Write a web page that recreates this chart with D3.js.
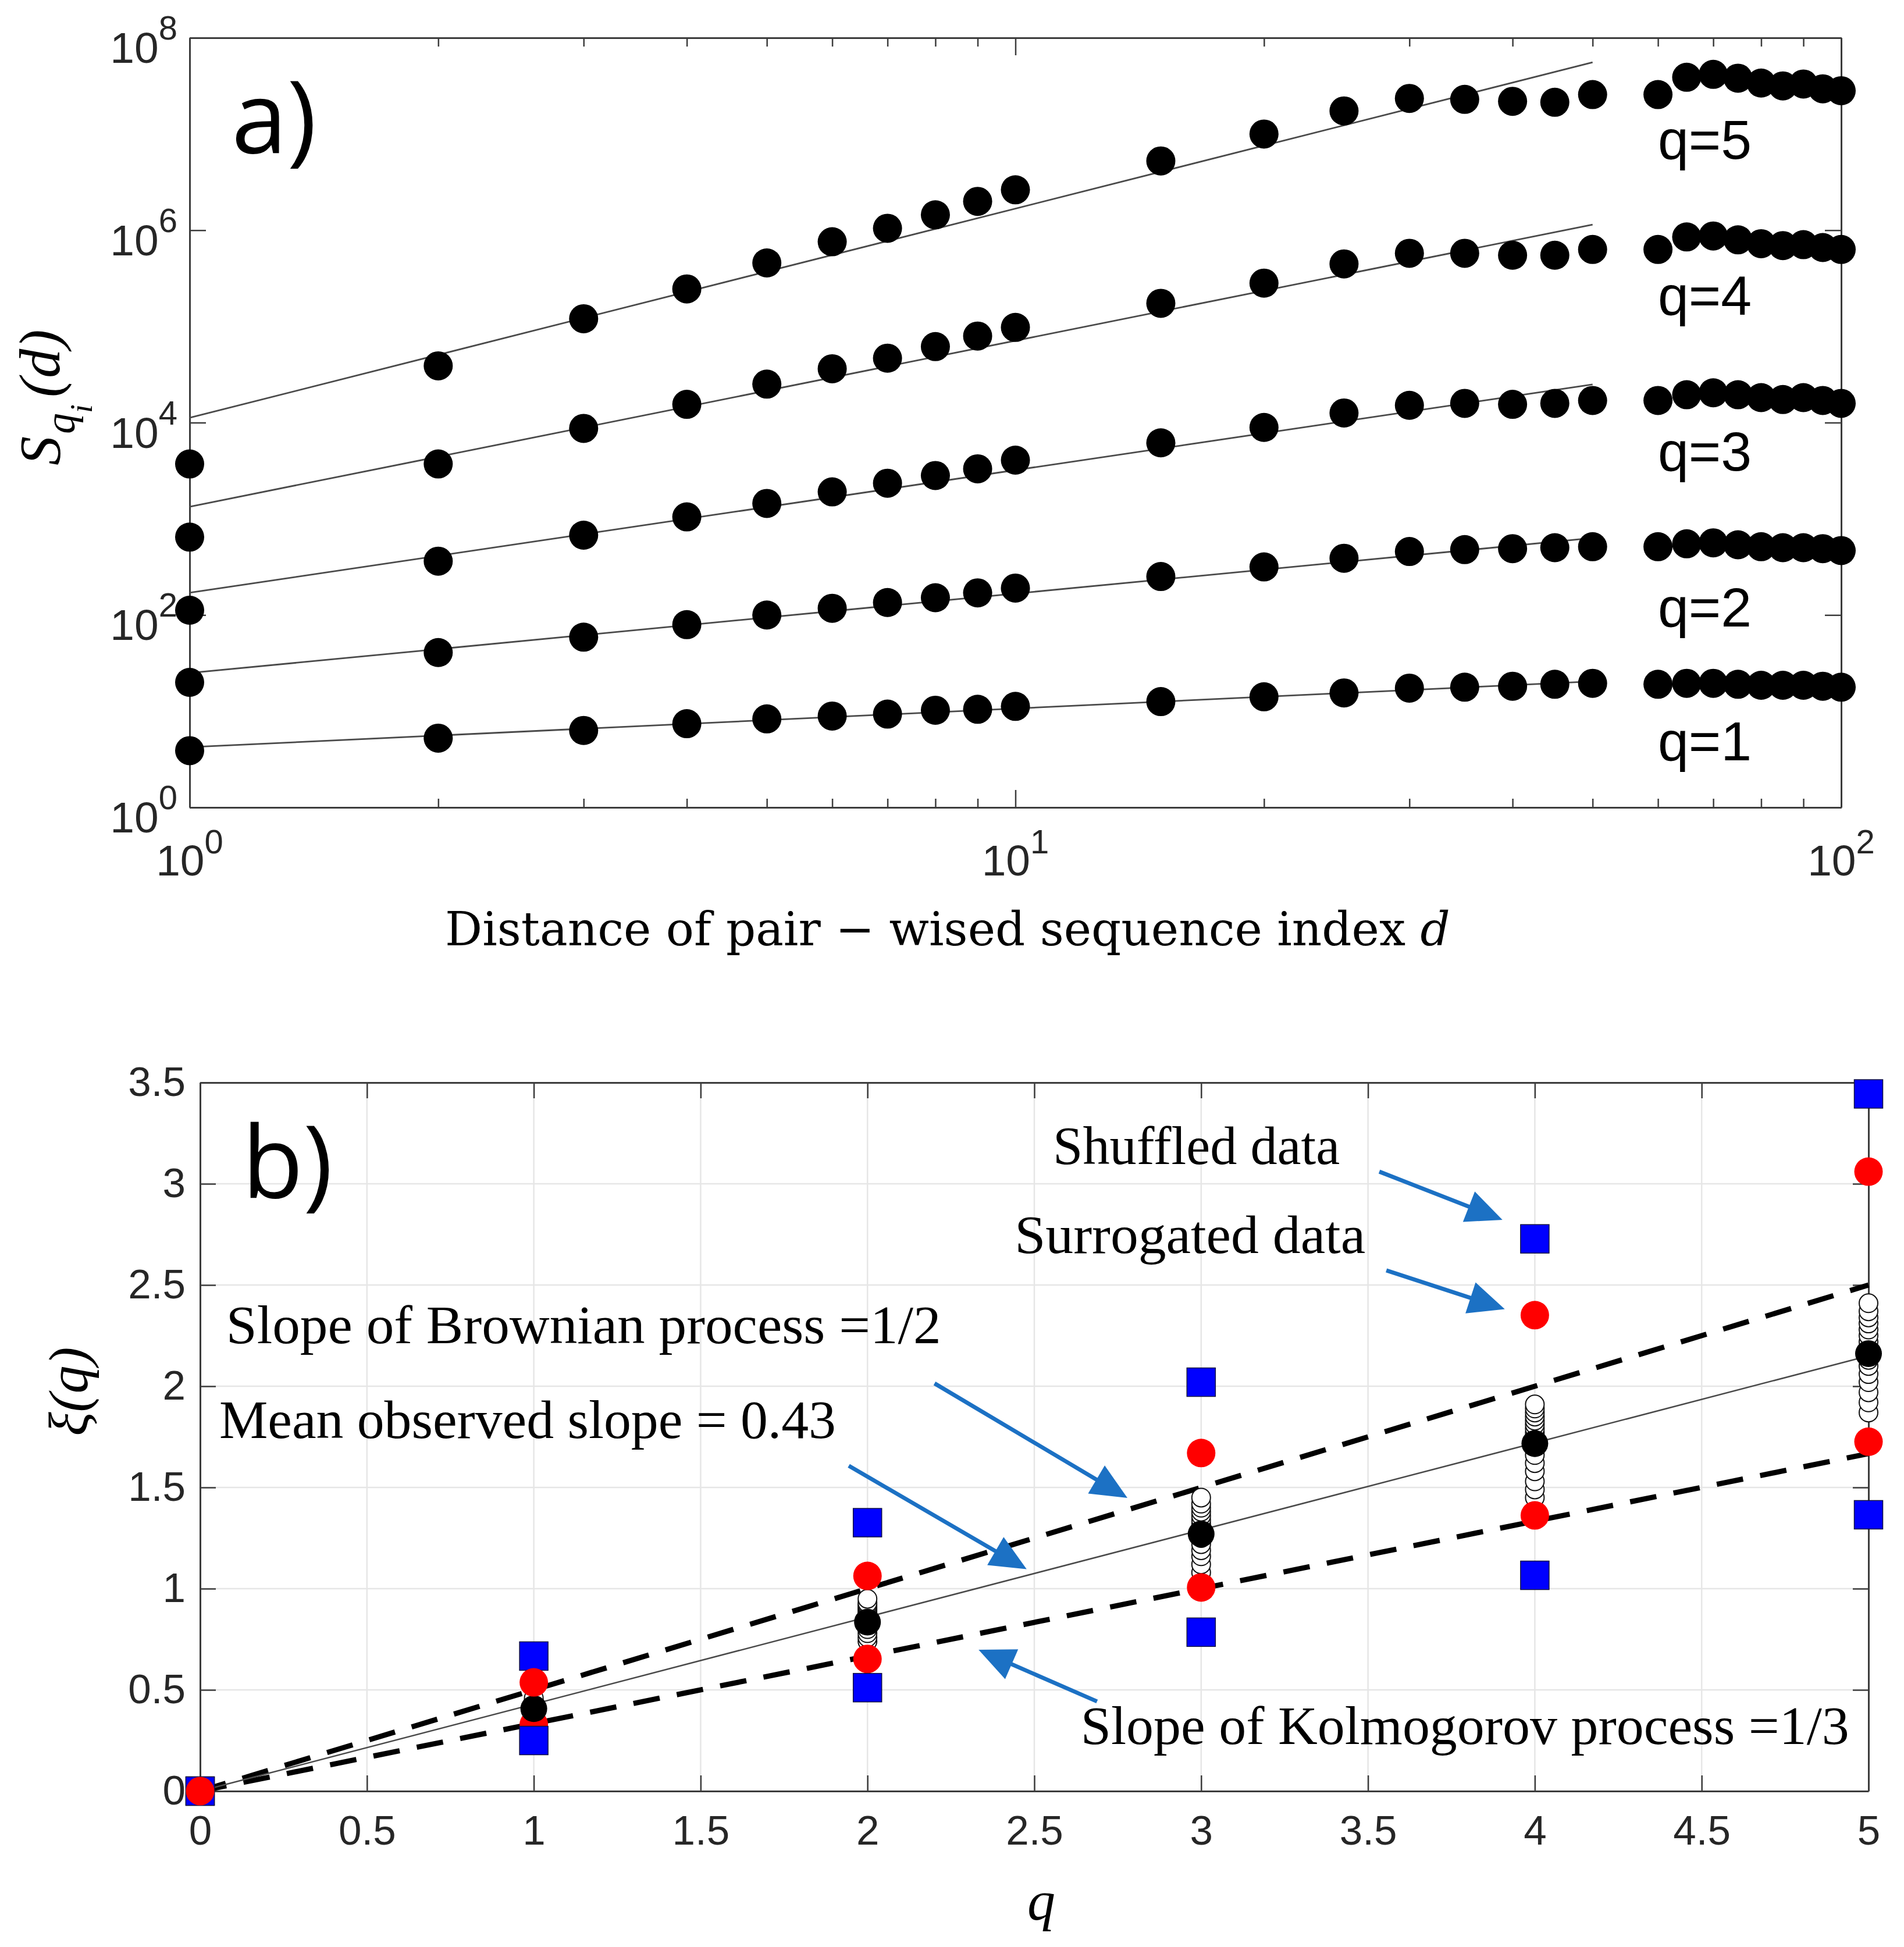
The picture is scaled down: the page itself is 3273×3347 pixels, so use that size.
<!DOCTYPE html>
<html>
<head>
<meta charset="utf-8">
<script src="https://cdn.jsdelivr.net/npm/d3@7"></script>
<style>
body { margin: 0; background: #fff; }
</style>
</head>
<body>
<svg id="chart" width="3273" height="3347"></svg>
<script>
// ---- panel a: structure function S_q(d), values stored as log10 ----
var distances = [1, 2, 3, 4, 5, 6, 7, 8, 9, 10, 15, 20, 25, 30, 35, 40, 45, 50, 60, 65, 70, 75, 80, 85, 90, 95, 100];
var q1Log = [0.59, 0.72, 0.80, 0.87, 0.92, 0.95, 0.97, 1.01, 1.02, 1.05, 1.10, 1.15, 1.19, 1.24, 1.25, 1.26, 1.28, 1.29, 1.28, 1.29, 1.29, 1.28, 1.27, 1.27, 1.27, 1.26, 1.25];
var q2Log = [1.30, 1.61, 1.77, 1.90, 2.00, 2.07, 2.13, 2.18, 2.23, 2.28, 2.40, 2.50, 2.59, 2.66, 2.68, 2.69, 2.70, 2.71, 2.71, 2.74, 2.75, 2.73, 2.71, 2.70, 2.70, 2.69, 2.67];
var q3Log = [2.05, 2.56, 2.83, 3.02, 3.16, 3.28, 3.37, 3.45, 3.52, 3.61, 3.79, 3.95, 4.10, 4.18, 4.20, 4.19, 4.20, 4.23, 4.23, 4.29, 4.31, 4.29, 4.26, 4.24, 4.26, 4.23, 4.20];
var q4Log = [2.81, 3.57, 3.94, 4.19, 4.40, 4.56, 4.67, 4.79, 4.90, 4.99, 5.24, 5.45, 5.65, 5.76, 5.76, 5.74, 5.74, 5.80, 5.80, 5.93, 5.94, 5.90, 5.86, 5.84, 5.85, 5.82, 5.80];
var q5Log = [3.57, 4.59, 5.08, 5.39, 5.66, 5.88, 6.02, 6.16, 6.30, 6.42, 6.72, 7.00, 7.24, 7.37, 7.36, 7.34, 7.33, 7.41, 7.41, 7.59, 7.62, 7.58, 7.53, 7.50, 7.52, 7.47, 7.45];
var qLabels = ["q=1", "q=2", "q=3", "q=4", "q=5"];
// fitted lines, log10 S at d=1 and at d=50
var fitRange = [1, 50];
var fitStartLog = [0.626, 1.397, 2.232, 3.126, 4.05];
var fitEndLog = [1.31, 2.80, 4.397, 6.058, 7.745];
var xTicksA = [1, 10, 100];
var xMinorA = [2, 3, 4, 5, 6, 7, 8, 9, 20, 30, 40, 50, 60, 70, 80, 90];
var yTicksA = [1, 1e2, 1e4, 1e6, 1e8];

// ---- panel b: scaling exponents xi(q) ----
var qValues = [0, 1, 2, 3, 4, 5];
var shuffledHigh = [0, 0.667, 1.326, 2.02, 2.728, 3.444];
var shuffledLow = [0, 0.25, 0.511, 0.785, 1.066, 1.365];
var surrogatedHigh = [0, 0.537, 1.063, 1.67, 2.351, 3.06];
var surrogatedLow = [0, 0.329, 0.653, 1.006, 1.362, 1.726];
var meanObserved = [0, 0.407, 0.835, 1.27, 1.717, 2.161];
var observedPerQ = [
    [0],
    [0.36, 0.38, 0.39, 0.40, 0.41, 0.42, 0.43, 0.44, 0.45, 0.46],
    [0.74, 0.76, 0.78, 0.80, 0.82, 0.84, 0.85, 0.86, 0.87, 0.88, 0.89, 0.90, 0.91, 0.92, 0.93, 0.95],
    [1.08, 1.12, 1.16, 1.19, 1.22, 1.25, 1.28, 1.30, 1.32, 1.34, 1.36, 1.38, 1.40, 1.42, 1.45],
    [1.45, 1.49, 1.53, 1.58, 1.62, 1.66, 1.70, 1.73, 1.75, 1.77, 1.79, 1.81, 1.83, 1.85, 1.87, 1.89, 1.91],
    [1.87, 1.92, 1.97, 2.02, 2.06, 2.10, 2.13, 2.16, 2.19, 2.22, 2.25, 2.28, 2.31, 2.34, 2.37, 2.41]
];
var brownianLine = [[0, 0], [5, 2.5]];
var kolmogorovLine = [[0, 0], [5, 1.667]];
var meanLine = [[0, 0], [5, 2.15]];
var xTicksB = [0, 0.5, 1, 1.5, 2, 2.5, 3, 3.5, 4, 4.5, 5];
var yTicksB = [0, 0.5, 1, 1.5, 2, 2.5, 3, 3.5];

var axisColor = "#3c3c3c";
var labelColor = "#262626";
var sans = "'Liberation Sans', Arial, sans-serif";
var serif = "'Liberation Serif', 'Times New Roman', serif";

var svg = d3.select("#chart");
svg.append("rect").attr("width", 3273).attr("height", 3347).attr("fill", "#fff");

function styleAxis(g) {
    g.select(".domain").attr("stroke", axisColor).attr("stroke-width", 3);
    g.selectAll(".tick line").attr("stroke", axisColor).attr("stroke-width", 2.5);
    g.selectAll(".tick text").attr("fill", labelColor).style("font-family", sans).style("font-size", "71px");
}

// ================= panel a =================
var xA = d3.scaleLog().domain([1, 100]).range([326, 3165]);
var yA = d3.scaleLog().domain([1, 1e8]).range([1388, 65]);

var gA = svg.append("g");

gA.append("g").attr("transform", "translate(0,1388)")
    .call(d3.axisBottom(xA).tickValues(xMinorA).tickSize(-15).tickSizeOuter(0).tickFormat(""))
    .call(styleAxis);
gA.append("g").attr("transform", "translate(0,1388)")
    .call(d3.axisBottom(xA).tickValues(xTicksA).tickSize(-30).tickSizeOuter(0).tickFormat(""))
    .call(styleAxis);
gA.append("g").attr("transform", "translate(0,65)")
    .call(d3.axisTop(xA).tickValues(xMinorA).tickSize(-15).tickSizeOuter(0).tickFormat(""))
    .call(styleAxis);
gA.append("g").attr("transform", "translate(0,65)")
    .call(d3.axisTop(xA).tickValues(xTicksA).tickSize(-30).tickSizeOuter(0).tickFormat(""))
    .call(styleAxis);
gA.append("g").attr("transform", "translate(326,0)")
    .call(d3.axisLeft(yA).tickValues(yTicksA).tickSize(-28).tickSizeOuter(0).tickFormat(""))
    .call(styleAxis);
gA.append("g").attr("transform", "translate(3165,0)")
    .call(d3.axisRight(yA).tickValues(yTicksA).tickSize(-28).tickSizeOuter(0).tickFormat(""))
    .call(styleAxis);

// power-of-ten tick labels
yTicksA.forEach(function (v) {
    var t = gA.append("text")
        .attr("x", 305).attr("y", yA(v) + 43)
        .attr("text-anchor", "end")
        .attr("fill", labelColor)
        .style("font-family", sans).style("font-size", "75px")
        .text("10");
    t.append("tspan").attr("dy", -40).style("font-size", "58px").text(Math.round(Math.log10(v)));
});
xTicksA.forEach(function (v) {
    var t = gA.append("text")
        .attr("x", xA(v)).attr("y", 1505)
        .attr("text-anchor", "middle")
        .attr("fill", labelColor)
        .style("font-family", sans).style("font-size", "75px")
        .text("10");
    t.append("tspan").attr("dy", -38).style("font-size", "58px").text(Math.round(Math.log10(v)));
});

var seriesA = [q1Log, q2Log, q3Log, q4Log, q5Log];
var fitLine = d3.line().x(function (d) { return xA(d[0]); }).y(function (d) { return yA(d[1]); });

seriesA.forEach(function (s, i) {
    var pts = [[fitRange[0], Math.pow(10, fitStartLog[i])], [fitRange[1], Math.pow(10, fitEndLog[i])]];
    gA.append("path").attr("d", fitLine(pts))
        .attr("fill", "none").attr("stroke", "#4a4a4a").attr("stroke-width", 2.8);
});

seriesA.forEach(function (s, i) {
    gA.append("g").selectAll("circle")
        .data(s)
        .enter()
        .append("circle")
        .attr("cx", function (d, j) { return xA(distances[j]); })
        .attr("cy", function (d) { return yA(Math.pow(10, d)); })
        .attr("r", 25)
        .attr("fill", "#000");
});

var qLabelBase = [1307, 1077, 809, 541, 273];
qLabels.forEach(function (l, i) {
    gA.append("text")
        .attr("x", 2850).attr("y", qLabelBase[i])
        .attr("fill", "#000")
        .style("font-family", sans).style("font-size", "95px")
        .text(l);
});

gA.append("text").attr("x", 398).attr("y", 263)
    .style("font-family", "'Open Sans', 'Noto Sans', sans-serif").style("font-size", "172px")
    .attr("fill", "#000").text("a)");

gA.append("text").attr("x", 765).attr("y", 1625)
    .style("font-family", "'DejaVu Serif', serif").style("font-size", "80px")
    .attr("fill", "#000")
    .text("Distance of pair \u2212 wised sequence index ")
    .append("tspan").style("font-style", "italic").text("d");

var yLabA = gA.append("text")
    .attr("transform", "translate(102,800) rotate(-90)")
    .style("font-family", serif).style("font-style", "italic").style("font-size", "100px")
    .attr("fill", "#000");
yLabA.append("tspan").text("S");
yLabA.append("tspan").attr("dy", 26).attr("dx", 4).style("font-size", "72px").text("q");
yLabA.append("tspan").attr("dy", 30).style("font-size", "54px").text("i");
yLabA.append("tspan").attr("dy", -56).attr("dx", 12).text("(d)");

// ================= panel b =================
var xB = d3.scaleLinear().domain([0, 5]).range([344, 3212]);
var yB = d3.scaleLinear().domain([0, 3.5]).range([3079, 1861]);

var gB = svg.append("g");

// grid
gB.append("g").selectAll("line").data(xTicksB).enter().append("line")
    .attr("x1", function (d) { return xB(d); }).attr("x2", function (d) { return xB(d); })
    .attr("y1", yB(0)).attr("y2", yB(3.5))
    .attr("stroke", "#e6e6e6").attr("stroke-width", 2.5);
gB.append("g").selectAll("line").data(yTicksB).enter().append("line")
    .attr("y1", function (d) { return yB(d); }).attr("y2", function (d) { return yB(d); })
    .attr("x1", xB(0)).attr("x2", xB(5))
    .attr("stroke", "#e6e6e6").attr("stroke-width", 2.5);

gB.append("g").attr("transform", "translate(0,3079)")
    .call(d3.axisBottom(xB).tickValues(xTicksB).tickSize(-27).tickSizeOuter(0).tickPadding(42).tickFormat(function (d) { return String(d); }))
    .call(styleAxis);
gB.append("g").attr("transform", "translate(0,1861)")
    .call(d3.axisTop(xB).tickValues(xTicksB).tickSize(-27).tickSizeOuter(0).tickFormat(""))
    .call(styleAxis);
gB.append("g").attr("transform", "translate(344,0)")
    .call(d3.axisLeft(yB).tickValues(yTicksB).tickSize(-27).tickSizeOuter(0).tickPadding(25).tickFormat(function (d) { return String(d); }))
    .call(styleAxis);
gB.append("g").attr("transform", "translate(3212,0)")
    .call(d3.axisRight(yB).tickValues(yTicksB).tickSize(-27).tickSizeOuter(0).tickFormat(""))
    .call(styleAxis);

var refLine = d3.line().x(function (d) { return xB(d[0]); }).y(function (d) { return yB(d[1]); });
gB.append("path").attr("d", refLine(brownianLine))
    .attr("fill", "none").attr("stroke", "#000").attr("stroke-width", 9).attr("stroke-dasharray", "46,30");
gB.append("path").attr("d", refLine(kolmogorovLine))
    .attr("fill", "none").attr("stroke", "#000").attr("stroke-width", 9).attr("stroke-dasharray", "46,30");
gB.append("path").attr("d", refLine(meanLine))
    .attr("fill", "none").attr("stroke", "#4a4a4a").attr("stroke-width", 2.5);

// individual observed slopes (open circles)
observedPerQ.forEach(function (vals, i) {
    gB.append("g").selectAll("circle").data(vals).enter().append("circle")
        .attr("cx", xB(qValues[i]))
        .attr("cy", function (d) { return yB(d); })
        .attr("r", 16)
        .attr("fill", "#fff").attr("stroke", "#111").attr("stroke-width", 2);
});

function drawCircles(vals, color, r) {
    gB.append("g").selectAll("circle").data(vals).enter().append("circle")
        .attr("cx", function (d, i) { return xB(qValues[i]); })
        .attr("cy", function (d) { return yB(d); })
        .attr("r", r).attr("fill", color);
}
function drawSquares(vals) {
    var s = 49;
    gB.append("g").selectAll("rect").data(vals).enter().append("rect")
        .attr("x", function (d, i) { return xB(qValues[i]) - s / 2; })
        .attr("y", function (d) { return yB(d) - s / 2; })
        .attr("width", s).attr("height", s)
        .attr("fill", "#0000ff").attr("stroke", "#101040").attr("stroke-width", 1.5);
}
drawCircles(surrogatedLow, "#ff0000", 24.5);
drawSquares(shuffledLow);
drawCircles(meanObserved, "#000", 23);
drawSquares(shuffledHigh);
drawCircles(surrogatedHigh, "#ff0000", 24.5);

// annotations and arrows
var notes = [
    { text: "Shuffled data", x: 2.556, y: 3.099, w: 493 },
    { text: "Surrogated data", x: 2.441, y: 2.659, w: 603 },
    { text: "Slope of Brownian process =1/2", x: 0.078, y: 2.213, w: 1229 },
    { text: "Mean observed slope = 0.43", x: 0.0575, y: 1.743, w: 1060 },
    { text: "Slope of Kolmogorov process =1/3", x: 2.639, y: 0.233, w: 1321 }
];
notes.forEach(function (n) {
    gB.append("text").attr("x", xB(n.x)).attr("y", yB(n.y))
        .attr("textLength", n.w).attr("lengthAdjust", "spacingAndGlyphs")
        .style("font-family", serif).style("font-size", "93px")
        .attr("fill", "#000").text(n.text);
});

var arrows = [
    { from: [3.534, 3.060], to: [3.903, 2.822] },
    { from: [3.555, 2.572], to: [3.910, 2.381] },
    { from: [2.201, 2.014], to: [2.779, 1.448] },
    { from: [1.944, 1.607], to: [2.477, 1.096] },
    { from: [2.688, 0.443], to: [2.333, 0.698] }
];
var arrowColor = "#1c71c4";
arrows.forEach(function (a) {
    var x1 = xB(a.from[0]), y1 = yB(a.from[1]);
    var x2 = xB(a.to[0]), y2 = yB(a.to[1]);
    var dx = x2 - x1, dy = y2 - y1, len = Math.sqrt(dx * dx + dy * dy);
    var ux = dx / len, uy = dy / len;
    var hl = 62, hw = 28;
    var bx = x2 - ux * hl, by = y2 - uy * hl;
    gB.append("line").attr("x1", x1).attr("y1", y1).attr("x2", bx + ux * 4).attr("y2", by + uy * 4)
        .attr("stroke", arrowColor).attr("stroke-width", 7);
    gB.append("path")
        .attr("d", "M" + x2 + "," + y2 + "L" + (bx - uy * hw) + "," + (by + ux * hw) + "L" + (bx + uy * hw) + "," + (by - ux * hw) + "Z")
        .attr("fill", arrowColor);
});

gB.append("text").attr("x", 416).attr("y", 2059)
    .style("font-family", "'Open Sans', 'Noto Sans', sans-serif").style("font-size", "172px")
    .attr("fill", "#000").text("b)");

gB.append("text").attr("x", 1790).attr("y", 3300)
    .attr("text-anchor", "middle")
    .style("font-family", serif).style("font-style", "italic").style("font-size", "96px")
    .attr("fill", "#000").text("q");

gB.append("text")
    .attr("transform", "translate(150,2392) rotate(-90)")
    .attr("text-anchor", "middle")
    .style("font-family", serif).style("font-style", "italic").style("font-size", "96px")
    .attr("fill", "#000").text("\u03be(q)");
</script>
</body>
</html>
